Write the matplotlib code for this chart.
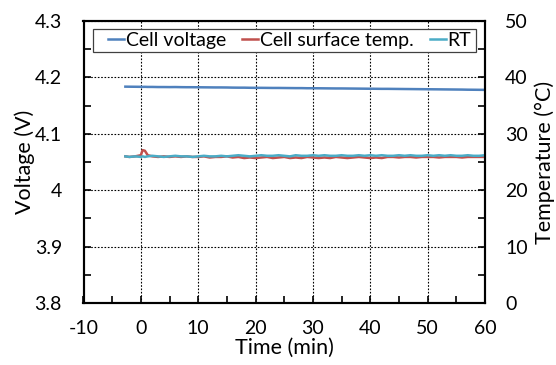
import numpy as np
from matplotlib import pyplot as plt
from matplotlib.ticker import MultipleLocator
from matplotlib.patches import Rectangle

# time axis (min) and readings
t_min = [-2.7, -2, -1, 0, 0.3, 0.7, 1.2, 2, 3, 4, 5, 6, 7, 8, 9, 10, 11, 12, 13, 14,
         15, 16, 17, 18, 19, 20, 21, 22, 23, 24, 25, 26, 27, 28, 29, 30, 31, 32, 33,
         34, 35, 36, 37, 38, 39, 40, 41, 42, 43, 44, 45, 46, 47, 48, 49, 50, 51, 52,
         53, 54, 55, 56, 57, 58, 59, 60]

cell_v = [4.1836, 4.1835, 4.1834, 4.1833, 4.1832, 4.1833, 4.1831, 4.1831, 4.1829, 4.1829,
          4.1828, 4.1829, 4.1827, 4.1826, 4.1826, 4.1825, 4.1824, 4.1823, 4.1822, 4.1822,
          4.1821, 4.1819, 4.1818, 4.1818, 4.1816, 4.1815, 4.1815, 4.1814, 4.1813, 4.1813,
          4.1812, 4.1811, 4.1810, 4.1810, 4.1808, 4.1808, 4.1807, 4.1806, 4.1805, 4.1804,
          4.1804, 4.1803, 4.1802, 4.1801, 4.1800, 4.1799, 4.1798, 4.1797, 4.1797, 4.1796,
          4.1795, 4.1794, 4.1793, 4.1792, 4.1791, 4.1790, 4.1789, 4.1788, 4.1787, 4.1786,
          4.1785, 4.1784, 4.1782, 4.1781, 4.1780, 4.1779]

surf_temp = [26.0, 25.9, 26.0, 26.2, 27.1, 27.0, 26.2, 26.0, 25.9, 26.0, 25.9, 26.0, 25.9,
             26.0, 25.9, 25.9, 26.0, 25.8, 25.9, 25.9, 26.0, 25.8, 25.9, 25.7, 25.8, 25.7,
             25.8, 25.9, 25.7, 25.8, 25.9, 25.7, 25.8, 25.7, 25.9, 25.8, 25.7, 25.8, 25.7,
             25.9, 25.8, 25.7, 25.8, 25.9, 25.8, 25.7, 25.8, 25.7, 25.9, 25.9, 25.8, 25.9,
             25.9, 25.8, 25.9, 25.9, 25.9, 25.8, 25.9, 25.9, 25.9, 25.8, 25.9, 25.9, 25.9, 25.9]

rt_temp = [26.0, 25.9, 26.0, 25.9, 26.0, 25.9, 26.0, 26.1, 26.0, 25.9, 26.0, 26.1, 26.0,
           26.0, 25.9, 26.0, 26.1, 26.0, 26.0, 26.1, 26.0, 26.1, 26.2, 26.1, 26.0, 26.1,
           26.2, 26.1, 26.1, 26.2, 26.1, 26.0, 26.2, 26.1, 26.1, 26.2, 26.1, 26.2, 26.1,
           26.1, 26.2, 26.1, 26.1, 26.2, 26.1, 26.2, 26.1, 26.2, 26.1, 26.1, 26.2, 26.1,
           26.2, 26.1, 26.1, 26.2, 26.1, 26.2, 26.1, 26.2, 26.1, 26.1, 26.2, 26.1, 26.1, 26.2]

plt.rcParams['font.family'] = ['Lato', 'DejaVu Sans']
plt.rcParams['font.size'] = 14
plt.rcParams['axes.unicode_minus'] = False

fig = plt.figure(figsize=(5.56, 3.65), dpi=100)
ax = fig.add_axes([83.5 / 556, 1 - 303 / 365, 401.5 / 556, 282 / 365])
ax2 = ax.twinx()

l1, = ax.plot(t_min, cell_v, color='#4F81BD', lw=1.8, label='Cell voltage')
l2, = ax2.plot(t_min, surf_temp, color='#C0504D', lw=1.8, label='Cell surface temp.')
l3, = ax2.plot(t_min, rt_temp, color='#4BACC6', lw=1.8, label='RT')

ax.set_xlim(-10, 60)
ax.set_ylim(3.8, 4.3)
ax2.set_ylim(0, 50)
ax.xaxis.set_major_locator(MultipleLocator(10))
ax.xaxis.set_minor_locator(MultipleLocator(5))
ax.yaxis.set_major_locator(MultipleLocator(0.1))
ax.yaxis.set_minor_locator(MultipleLocator(0.05))
ax2.yaxis.set_major_locator(MultipleLocator(10))
ax2.yaxis.set_minor_locator(MultipleLocator(5))
ax.yaxis.set_major_formatter(lambda v, p: '4' if abs(v - 4) < 1e-6 else '%.1f' % v)

ax.grid(True, which='major', color='black', ls=(0, (1.5, 1.5)), lw=0.8)
for a in (ax, ax2):
    a.tick_params(which='both', direction='in', width=1.2, length=5, labelsize=14)
    for s in a.spines.values():
        s.set_linewidth(1.5)
ax.tick_params(axis='x', pad=12)
ax.tick_params(axis='y', pad=15.5)
ax2.tick_params(axis='y', pad=14.4)

ax.set_xlabel('Time (min)', fontsize=15.5, labelpad=1)
ax.set_ylabel('Voltage (V)', fontsize=15.5, labelpad=0)
ax2.set_ylabel('Temperature (°C)', fontsize=15.5, labelpad=5)

# legend box, white filled like the original
ax2.add_patch(Rectangle((93 / 556, 1 - 52 / 365), 383 / 556, 23 / 365,
                        transform=fig.transFigure, facecolor='white',
                        edgecolor='#404040', lw=0.9, zorder=4, clip_on=False))
leg = ax2.legend(handles=[l1, l2, l3], ncol=3, loc='center left',
                 bbox_to_anchor=(108 / 556, 1 - 40.5 / 365), bbox_transform=fig.transFigure,
                 fontsize=14, frameon=False, handlelength=0.8, handletextpad=0.1,
                 columnspacing=0.85, borderpad=0, borderaxespad=0)
leg.set_zorder(5)

plt.savefig('out.png', dpi=100)
